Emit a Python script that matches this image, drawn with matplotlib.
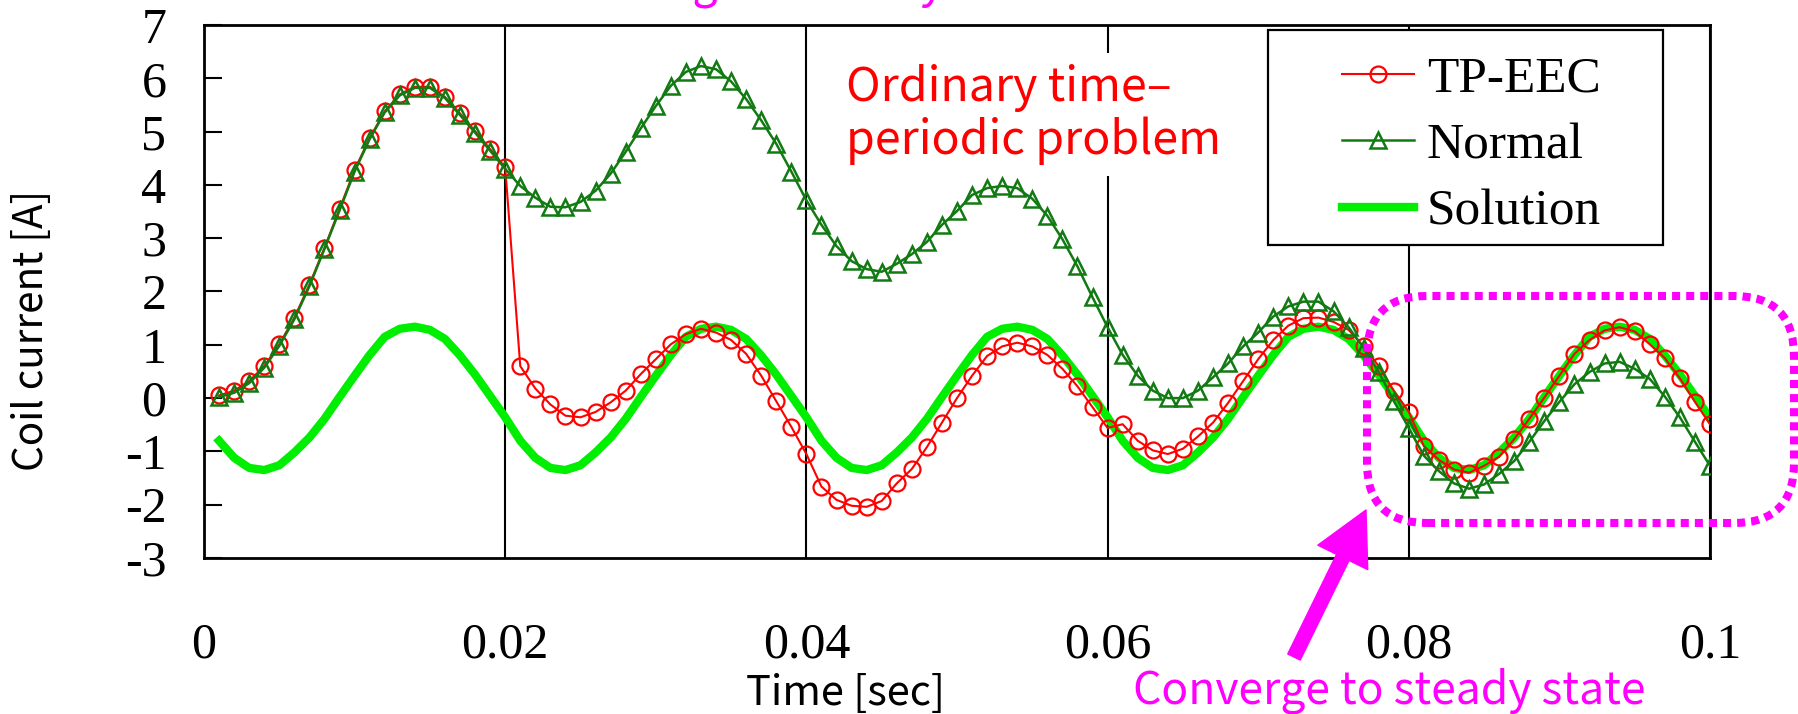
import numpy as np
import matplotlib
matplotlib.use("Agg")
import matplotlib.pyplot as plt
from matplotlib.patches import FancyBboxPatch, Rectangle

plt.rcParams['font.family'] = 'Liberation Serif'
plt.rcParams['axes.unicode_minus'] = False

W, H = 1798, 714
SANS = ['Noto Sans CJK JP', 'DejaVu Sans']
MAGENTA = '#ff00ff'

# --- data, one sample every 1 ms ---
time = np.round(np.arange(1, 101) * 0.001, 3)

tp_eec = [
    0.05, 0.14, 0.32, 0.60, 1.01, 1.51, 2.13, 2.82, 3.55, 4.28,
    4.88, 5.38, 5.70, 5.84, 5.84, 5.65, 5.34, 5.01, 4.67, 4.33,
    0.60, 0.18, -0.12, -0.33, -0.36, -0.26, -0.08, 0.14, 0.45, 0.73,
    1.01, 1.20, 1.30, 1.23, 1.09, 0.83, 0.42, -0.06, -0.54, -1.05,
    -1.66, -1.91, -2.02, -2.04, -1.93, -1.60, -1.33, -0.92, -0.46, 0.00,
    0.42, 0.79, 0.97, 1.04, 0.97, 0.81, 0.55, 0.22, -0.17, -0.56,
    -0.49, -0.80, -0.98, -1.05, -0.95, -0.72, -0.46, -0.09, 0.32, 0.73,
    1.09, 1.36, 1.50, 1.51, 1.43, 1.28, 0.97, 0.60, 0.14, -0.26,
    -0.90, -1.16, -1.34, -1.40, -1.27, -1.10, -0.77, -0.39, 0.01, 0.42,
    0.83, 1.09, 1.27, 1.33, 1.25, 1.01, 0.75, 0.37, -0.07, -0.49,
]

normal = [
    0.02, 0.10, 0.28, 0.57, 0.98, 1.48, 2.10, 2.80, 3.52, 4.25,
    4.86, 5.36, 5.68, 5.82, 5.82, 5.63, 5.31, 4.98, 4.64, 4.30,
    3.98, 3.76, 3.59, 3.58, 3.68, 3.89, 4.21, 4.62, 5.06, 5.48,
    5.86, 6.12, 6.23, 6.17, 5.94, 5.61, 5.21, 4.77, 4.25, 3.71,
    3.25, 2.85, 2.57, 2.42, 2.37, 2.52, 2.70, 2.93, 3.25, 3.51,
    3.81, 3.94, 3.98, 3.94, 3.74, 3.42, 2.98, 2.47, 1.89, 1.33,
    0.81, 0.42, 0.14, 0.00, 0.00, 0.14, 0.39, 0.65, 0.97, 1.23,
    1.53, 1.72, 1.81, 1.81, 1.63, 1.33, 0.94, 0.49, -0.05, -0.56,
    -1.08, -1.37, -1.60, -1.70, -1.62, -1.42, -1.18, -0.82, -0.43, -0.07,
    0.26, 0.49, 0.65, 0.68, 0.55, 0.36, 0.03, -0.36, -0.82, -1.27,
]

solution = [
    -0.80, -1.12, -1.31, -1.35, -1.26, -1.02, -0.74, -0.39, 0.02, 0.42,
    0.81, 1.15, 1.30, 1.34, 1.28, 1.11, 0.80, 0.44, 0.04, -0.36,
    -0.80, -1.12, -1.31, -1.35, -1.26, -1.02, -0.74, -0.39, 0.02, 0.42,
    0.81, 1.15, 1.30, 1.34, 1.28, 1.11, 0.80, 0.44, 0.04, -0.36,
    -0.80, -1.12, -1.31, -1.35, -1.26, -1.02, -0.74, -0.39, 0.02, 0.42,
    0.81, 1.15, 1.30, 1.34, 1.28, 1.11, 0.80, 0.44, 0.04, -0.36,
    -0.80, -1.12, -1.31, -1.35, -1.26, -1.02, -0.74, -0.39, 0.02, 0.42,
    0.81, 1.15, 1.30, 1.34, 1.28, 1.11, 0.80, 0.44, 0.04, -0.36,
    -0.80, -1.12, -1.31, -1.35, -1.26, -1.02, -0.74, -0.39, 0.02, 0.42,
    0.81, 1.15, 1.30, 1.34, 1.28, 1.11, 0.80, 0.44, 0.04, -0.38,
]

series_labels = ['TP-EEC', 'Normal', 'Solution']
xticks = [0, 0.02, 0.04, 0.06, 0.08, 0.1]
xtick_labels = ['0', '0.02', '0.04', '0.06', '0.08', '0.1']
yticks = [-3, -2, -1, 0, 1, 2, 3, 4, 5, 6, 7]

fig = plt.figure(figsize=(W / 100, H / 100), dpi=100)
ax = fig.add_axes([204 / W, 1 - 558 / H, (1710 - 204) / W, (558 - 25) / H])

l_sol, = ax.plot(time, solution, color='#00ee00', lw=6, zorder=2)
l_tp, = ax.plot(time, tp_eec, color='#ff0000', lw=1.5, marker='o', ms=11.5,
                mfc='none', mew=1.6, zorder=3)
l_nm, = ax.plot(time, normal, color='#127a12', lw=1.8, marker='^', ms=11,
                mfc='none', mew=1.8, zorder=4)

ax.set_xlim(0, 0.1)
ax.set_ylim(-3, 7)
ax.set_xticks(xticks)
ax.set_xticklabels(xtick_labels)
ax.set_yticks(yticks)
ax.tick_params(axis='x', length=0, pad=46, labelsize=36)
ax.tick_params(axis='y', direction='in', length=13, width=1.5, pad=27, labelsize=36)
ax.grid(axis='x', color='black', lw=1.5)
for s in ax.spines.values():
    s.set_linewidth(2)

# legend box drawn separately so the padding can match
box = Rectangle((12.68, 4.69), 3.95, 2.15, transform=fig.dpi_scale_trans,
                facecolor='white', edgecolor='black', lw=1.6, zorder=4.5, clip_on=False)
ax.add_artist(box)
leg = ax.legend([l_tp, l_nm, l_sol], series_labels, loc='upper left',
                bbox_to_anchor=(13.42, 6.58), bbox_transform=fig.dpi_scale_trans,
                frameon=False, borderpad=0, borderaxespad=0, handlelength=1.4,
                handletextpad=0.25, labelspacing=0.38, fontsize=37, numpoints=1)
leg.set_zorder(5)

# annotations
ax.annotate('Ordinary time\u2013\nperiodic problem', xy=(846, H - 64), xycoords='figure pixels',
            ha='left', va='top', fontsize=33.5, color='#ff0000', family=SANS, linespacing=1.1,
            bbox=dict(facecolor='white', edgecolor='none', pad=8), zorder=3)

ring = FancyBboxPatch((13.67, 1.91), 4.27, 2.27, boxstyle='round,pad=0,rounding_size=0.6',
                      transform=fig.dpi_scale_trans, fill=False, edgecolor=MAGENTA, lw=5.8,
                      linestyle=(0, (1, 0.75)), capstyle='butt', clip_on=False, zorder=6)
ax.add_artist(ring)

ax.annotate('', xy=(1366, H - 510), xycoords='figure pixels',
            xytext=(1294, H - 657), textcoords='figure pixels',
            arrowprops=dict(arrowstyle='simple,head_length=0.95,head_width=1.0,tail_width=0.25',
                            mutation_scale=40, color=MAGENTA, shrinkA=0, shrinkB=0),
            annotation_clip=False, zorder=6)

fig.text(1133 / W, 10 / H, 'Converge to steady state', ha='left', va='baseline',
         fontsize=32, color=MAGENTA, family=SANS)
# caption above the figure, only its descenders reach into the picture
fig.text(545 / W, 1 + 3 / H, 'Converge to steady state', ha='left', va='baseline',
         fontsize=32, color=MAGENTA, family=SANS)

fig.text(845 / W, 9 / H, 'Time [sec]', ha='center', va='baseline', fontsize=30, family=SANS)
fig.text(32 / W, 1 - 330 / H, 'Coil current [A]', rotation=90, ha='center', va='center',
         fontsize=29, family=SANS)

fig.savefig('out.png', dpi=100)
